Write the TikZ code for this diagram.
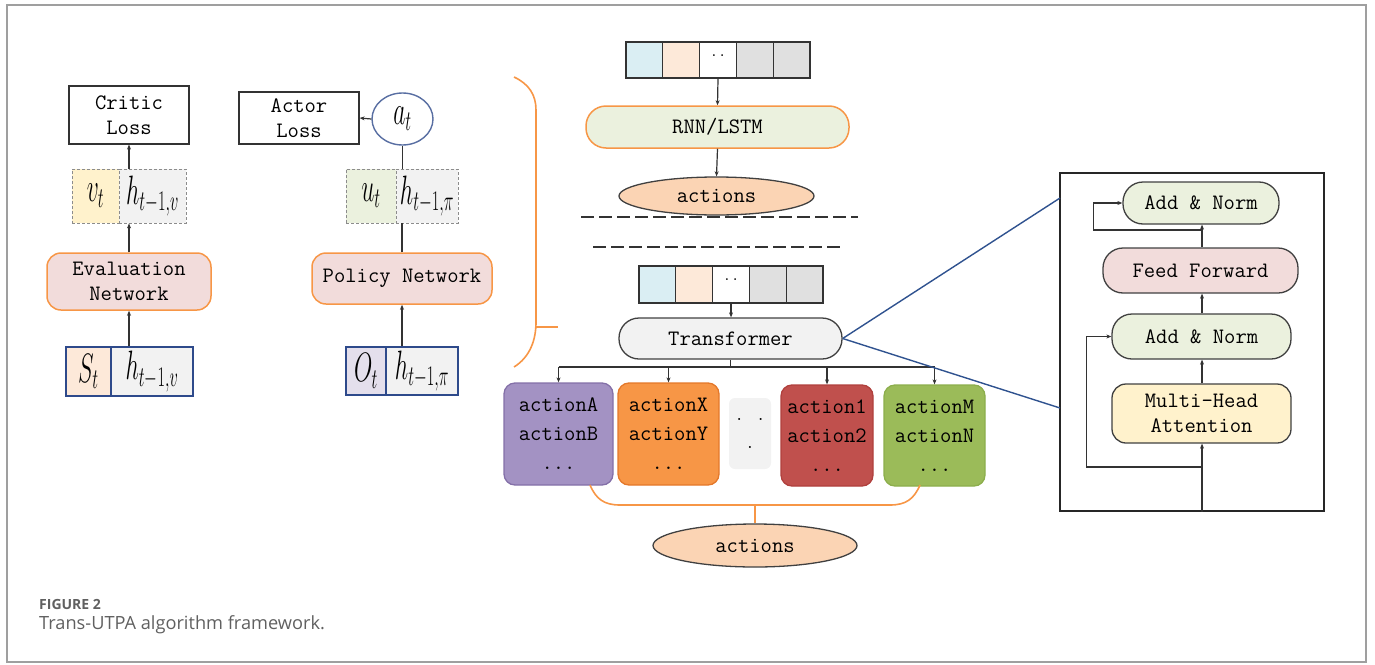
\documentclass[tikz,border=0pt]{standalone}
\usepackage{fontspec}
\usepackage{graphicx}
\usetikzlibrary{arrows.meta,shapes.geometric}
\newfontfamily\capfont{Open Sans}

\definecolor{orangeC}{HTML}{F79646}
\definecolor{pinkC}{HTML}{F2DCDB}
\definecolor{greenL}{HTML}{EBF1DE}
\definecolor{yellowL}{HTML}{FFF2CC}
\definecolor{peachL}{HTML}{FDE9D9}
\definecolor{blueL}{HTML}{DAEEF3}
\definecolor{grayL}{HTML}{F2F2F2}
\definecolor{grayM}{HTML}{E0E0E0}
\definecolor{lavL}{HTML}{E4DFEC}
\definecolor{actFill}{HTML}{FBD4B4}
\definecolor{purpleC}{HTML}{A392C3}
\definecolor{purpleD}{HTML}{8470A8}
\definecolor{orangeD}{HTML}{E4782A}
\definecolor{redC}{HTML}{C0504D}
\definecolor{redD}{HTML}{B0403D}
\definecolor{greenC}{HTML}{9BBB59}
\definecolor{greenD}{HTML}{8CAE4C}
\definecolor{navyC}{HTML}{2E4A8B}
\definecolor{linkC}{HTML}{2F528F}
\definecolor{capC}{HTML}{606060}

\newcommand{\mono}{\ttfamily\fontsize{22}{25}\selectfont}
\newcommand{\tallmath}[1]{\scalebox{0.95}[1.65]{$#1$}}

\tikzset{
  arr/.style={draw=black!80, line width=1.2pt, -{Stealth[length=5pt,width=4pt]}},
  plain/.style={draw=black!80, line width=1.2pt},
  lossbox/.style={draw=black!80, line width=1.2pt, fill=white, align=center,
    inner sep=0pt, font=\mono},
  netbox/.style={draw=orangeC, line width=1.5pt, fill=pinkC, rounded corners=14pt,
    align=center, inner sep=0pt, font=\mono},
  dashcell/.style={draw=black!45, densely dashed, line width=0.8pt, inner sep=0pt,
    minimum height=54pt, font=\fontsize{24}{26}\selectfont},
  navycell/.style={draw=navyC, line width=1.5pt, inner sep=0pt,
    minimum height=49pt, font=\fontsize{24}{26}\selectfont},
  seqcell/.style={draw=black!80, line width=1.2pt, inner sep=0pt,
    minimum width=36.8pt, minimum height=36pt},
  pill/.style={draw=black!75, line width=1.3pt, rounded corners=20pt, inner sep=0pt,
    font=\mono},
  actbox/.style={rounded corners=11pt, line width=1.3pt, inner sep=0pt, align=center,
    minimum height=102pt, font=\ttfamily\fontsize{22}{29}\selectfont},
  actell/.style={ellipse, draw=black!75, line width=1.3pt, fill=actFill, inner sep=0pt,
    font=\mono},
  brace/.style={draw=orangeC, line width=1.6pt},
  zoomline/.style={draw=linkC, line width=1.4pt},
}

\begin{document}
\begin{tikzpicture}[x=1pt,y=-1pt]
\useasboundingbox (0,0) rectangle (1375,664);
\draw[gray!75, line width=2pt] (7,5) rectangle (1366,662);

% ---------------- critic branch ----------------
\node[lossbox, minimum width=120pt, minimum height=58pt] (critic) at (129,115) {Critic\\Loss};
\node[dashcell, fill=yellowL, minimum width=47pt] (vt) at (95.5,196) {\tallmath{v_{t}}};
\node[dashcell, fill=grayL, minimum width=67pt] (vh) at (152.5,196) {\tallmath{h_{t-1,v}}};
\node[netbox, minimum width=164pt, minimum height=57pt] (eval) at (129,281.5) {Evaluation\\Network};
\node[navycell, fill=peachL, minimum width=45pt] (st) at (88.5,371.5) {\tallmath{S_{t}}};
\node[navycell, fill=grayL, minimum width=82pt] (sh) at (152,371.5) {\tallmath{h_{t-1,v}}};

\draw[arr] (eval.south |- sh.north) -- (eval.south);
\draw[arr] (eval.north) -- (eval.north |- vh.south);
\draw[arr] (eval.north |- vh.north) -- (critic.south);

% ---------------- actor branch ----------------
\node[lossbox, minimum width=120pt, minimum height=52pt] (actor) at (299,118) {Actor\\Loss};
\node[ellipse, draw=navyC!80, line width=1.4pt, fill=white, minimum width=61pt,
  minimum height=52pt, inner sep=0pt, font=\fontsize{24}{26}\selectfont] (at) at (402.5,119) {\tallmath{a_{t}}};
\node[dashcell, fill=greenL, minimum width=50pt] (ut) at (371,196) {\tallmath{u_{t}}};
\node[dashcell, fill=grayL, minimum width=62pt] (uh) at (427,196) {\tallmath{h_{t-1,\pi}}};
\node[netbox, minimum width=180pt, minimum height=51pt] (policy) at (402,278.5) {Policy Network};
\node[navycell, fill=lavL, minimum width=40pt, minimum height=48pt] (ot) at (366,371) {\tallmath{O_{t}}};
\node[navycell, fill=grayL, minimum width=72pt, minimum height=48pt] (oh) at (422,371) {\tallmath{h_{t-1,\pi}}};

\draw[arr] (at.west) -- (actor.east);
\draw[arr] (policy.south |- oh.north) -- (policy.south);
\draw[plain] (policy.north) -- (policy.north |- uh.south);
\draw[plain] (at.south |- uh.north) -- (at.south);

% bracket grouping the two sequence models
\draw[brace] (514,77) .. controls (529,84) and (536,95) .. (536,110) -- (536,322)
  .. controls (536,340) and (530,357) .. (514,367);
\draw[brace] (536,327) -- (558,327);

% ---------------- RNN / LSTM model ----------------
\node[seqcell, fill=blueL] (a1) at (644.4,60) {};
\node[seqcell, fill=peachL] (a2) at (681.2,60) {};
\node[seqcell, fill=white] (a3) at (718,60) {\raisebox{9pt}{\ttfamily\fontsize{16}{16}\selectfont..}};
\node[seqcell, fill=grayM] (a4) at (754.8,60) {};
\node[seqcell, fill=grayM] (a5) at (791.6,60) {};
\node[pill, draw=orangeC, line width=1.5pt, fill=greenL, minimum width=263pt, minimum height=42pt] (rnn) at (717.5,127) {RNN/LSTM};
\node[actell, minimum width=195pt, minimum height=38pt] (acts1) at (716.5,196) {actions};
\draw[arr] (a3.south) -- (rnn.north);
\draw[arr] (rnn.south) -- (acts1.north);

\draw[draw=black!80, line width=1.5pt, dash pattern=on 13pt off 5pt] (581,217) -- (858,217);
\draw[draw=black!80, line width=1.5pt, dash pattern=on 13pt off 5pt] (593,247) -- (843,247);

% ---------------- Transformer model ----------------
\node[seqcell, fill=blueL, minimum height=37pt] (b1) at (657.4,284.5) {};
\node[seqcell, fill=peachL, minimum height=37pt] (b2) at (694.2,284.5) {};
\node[seqcell, fill=white, minimum height=37pt] (b3) at (731,284.5) {\raisebox{9pt}{\ttfamily\fontsize{16}{16}\selectfont..}};
\node[seqcell, fill=grayM, minimum height=37pt] (b4) at (767.8,284.5) {};
\node[seqcell, fill=grayM, minimum height=37pt] (b5) at (804.6,284.5) {};
\node[pill, fill=grayL, minimum width=223pt, minimum height=41pt] (trans) at (730.5,338.5) {Transformer};
\draw[arr] (b3.south) -- (b3.south |- trans.north);

\node[actbox, draw=purpleD, fill=purpleC, minimum width=109pt] (pA) at (558.5,434) {actionA\\actionB\\...};
\node[actbox, draw=orangeD, fill=orangeC, minimum width=101pt] (pX) at (668.5,434) {actionX\\actionY\\...};
\node[rounded corners=6pt, fill=grayL, minimum width=42pt, minimum height=71pt, inner sep=0pt,
  align=center, font=\ttfamily\fontsize{18}{28}\selectfont] (pD) at (750,433.5) {. .\\.};
\node[actbox, draw=redD, fill=redC, minimum width=92pt, minimum height=101pt] (p1) at (827,435.5) {action1\\action2\\...};
\node[actbox, draw=greenD, fill=greenC, minimum width=101pt, minimum height=101pt] (pM) at (934.5,435.5) {actionM\\actionN\\...};

\coordinate (bus) at (730,367);
\draw[plain] (trans.south) -- (trans.south |- bus);
\draw[plain] (pA.north |- bus) -- (pM.north |- bus);
\draw[arr] (pA.north |- bus) -- (pA.north);
\draw[arr] (pX.north |- bus) -- (pX.north);
\draw[arr] (p1.north |- bus) -- (p1.north);
\draw[arr] (pM.north |- bus) -- (pM.north);

\node[actell, minimum width=204pt, minimum height=43pt] (acts2) at (755,545.5) {actions};
\coordinate (brc) at (755,505);
\draw[brace] (590,485) .. controls (596,499) and (604,505) .. (620,505) -- (890,505)
  .. controls (906,505) and (914,499) .. (920,485);
\draw[brace] (brc) -- (acts2.north);

% ---------------- encoder block detail ----------------
\node[draw=black!85, line width=1.3pt, minimum width=264pt, minimum height=338pt, inner sep=0pt] (enc) at (1192,342) {};
\coordinate (z1) at (1060,198);
\coordinate (z2) at (1060,408);
\draw[zoomline] (trans.east) -- (z1);
\draw[zoomline] (trans.east) -- (z2);

\node[pill, fill=greenL, minimum width=156pt, minimum height=42pt] (an1) at (1201,203) {Add \& Norm};
\node[pill, fill=pinkC, minimum width=195pt, minimum height=45pt] (ff) at (1200.5,270.5) {Feed Forward};
\node[pill, fill=greenL, minimum width=179pt, minimum height=45pt] (an2) at (1201.5,336.5) {Add \& Norm};
\node[pill, rounded corners=14pt, fill=yellowL, minimum width=179pt, minimum height=59pt, align=center] (mha) at (1201.5,413.5) {Multi-Head\\Attention};

\coordinate (r1) at (1202,467);
\coordinate (r2) at (1202,230);
\draw[arr] (enc.south -| r1) -- (r1 |- mha.south);
\draw[arr] (r1 |- mha.north) -- (r1 |- an2.south);
\draw[arr] (r1 |- an2.north) -- (r1 |- ff.south);
\draw[arr] (r1 |- ff.north) -- (r1 |- an1.south);
\draw[arr] (r1) -| ([xshift=-25pt]an2.west) -- (an2.west);
\draw[arr] (r2) -| ([xshift=-29pt]an1.west) -- (an1.west);

% ---------------- caption ----------------
\node[anchor=base west, inner sep=0pt, text=capC, font=\capfont\bfseries\fontsize{14}{16}\selectfont] (fig) at (39,609) {FIGURE 2};
\node[anchor=base west, inner sep=0pt, text=capC, font=\capfont\fontsize{18.2}{20}\selectfont] (cap) at (39,629) {Trans-UTPA algorithm framework.};
\end{tikzpicture}
\end{document}
